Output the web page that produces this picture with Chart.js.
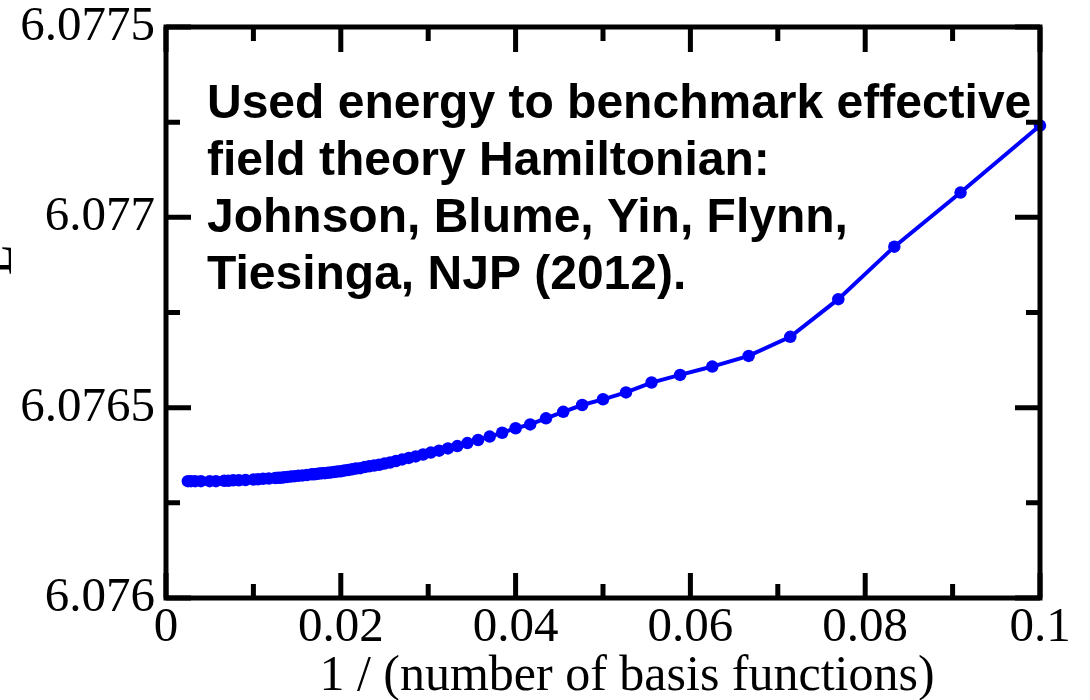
<!DOCTYPE html>
<html>
<head>
<meta charset="utf-8">
<title>Energy vs 1/N</title>
<script src="https://cdn.jsdelivr.net/npm/chart.js@4.4.1/dist/chart.umd.min.js"></script>
<style>
  html, body { margin: 0; padding: 0; background: #fff; }
  #wrap { width: 1090px; height: 700px; }
</style>
</head>
<body>
<div id="wrap"><canvas id="energyChart" width="1090" height="700"></canvas></div>
<script>
// Data
const basisCounts = [
    10, 11, 12, 13, 14, 15, 16, 17, 18, 19,
    20, 21, 22, 23, 24, 25, 26, 27, 28, 29,
    30, 31, 32, 33, 34, 35, 36, 37, 38, 39,
    40, 41, 42, 43, 44, 45, 46, 47, 48, 49,
    50, 51, 52, 53, 54, 55, 56, 57, 58, 59, 60,
    62, 64, 66, 68, 70, 72, 74, 76, 78, 80,
    85, 90, 95, 100, 110, 120, 130, 140, 150,
    175, 200, 250, 300, 350, 400
];
const energies = [
    6.077241, 6.077065, 6.076923, 6.076785, 6.076686, 6.076636, 6.076608, 6.076586, 6.076566, 6.076540,
    6.076522, 6.076507, 6.076489, 6.076472, 6.076456, 6.076446, 6.076434, 6.076424, 6.076415, 6.076407,
    6.076399, 6.076393, 6.076387, 6.076382, 6.076377, 6.076372, 6.076368, 6.076364, 6.076360, 6.076356,
    6.076353, 6.076350, 6.076348, 6.076346, 6.076344, 6.076341, 6.076340, 6.076338, 6.076336, 6.076335,
    6.076333, 6.076332, 6.076331, 6.076330, 6.076329, 6.076328, 6.076328, 6.076327, 6.076326, 6.076325, 6.076325,
    6.076323, 6.076322, 6.076321, 6.076320, 6.076319, 6.076318, 6.076317, 6.076316, 6.076316, 6.076315,
    6.076314, 6.076313, 6.076312, 6.076311, 6.076310, 6.076309, 6.076309, 6.076308, 6.076308,
    6.076307, 6.076307, 6.076307, 6.076307, 6.076307, 6.076307
];

// Axis ticks
const xTickValues = [0, 0.02, 0.04, 0.06, 0.08, 0.1];
const xMinorTicks = [0.01, 0.03, 0.05, 0.07, 0.09];
const yTickValues = [6.076, 6.0765, 6.077, 6.0775];
const yMinorTicks = [6.07625, 6.07675, 6.07725];

// Texts
const xTitle = '1 / (number of basis functions)';
const yTitle = 'E';
const noteLines = [
    'Used energy to benchmark effective',
    'field theory Hamiltonian:',
    'Johnson, Blume, Yin, Flynn,',
    'Tiesinga, NJP (2012).'
];

const SERIF = '"Liberation Serif", "Times New Roman", serif';
const SANS = '"Liberation Sans", Arial, sans-serif';

// Frame, inward ticks and the text boxes
const framePlugin = {
    id: 'framePlugin',
    afterDatasetsDraw(chart) {
        const { ctx, chartArea: a, scales: { x, y } } = chart;
        ctx.save();
        ctx.strokeStyle = '#000';
        ctx.lineWidth = 5;
        ctx.lineCap = 'butt';
        ctx.strokeRect(a.left, a.top, a.right - a.left, a.bottom - a.top);

        const major = 25, minor = 14;
        ctx.beginPath();
        const xTick = (v, len) => {
            const px = x.getPixelForValue(v);
            ctx.moveTo(px, a.bottom); ctx.lineTo(px, a.bottom - len);
            ctx.moveTo(px, a.top); ctx.lineTo(px, a.top + len);
        };
        const yTick = (v, len) => {
            const py = y.getPixelForValue(v);
            ctx.moveTo(a.left, py); ctx.lineTo(a.left + len, py);
            ctx.moveTo(a.right, py); ctx.lineTo(a.right - len, py);
        };
        xTickValues.forEach(v => xTick(v, major));
        xMinorTicks.forEach(v => xTick(v, minor));
        yTickValues.forEach(v => yTick(v, major));
        yMinorTicks.forEach(v => yTick(v, minor));
        ctx.stroke();
        ctx.restore();
    },
    afterDraw(chart) {
        const { ctx } = chart;
        ctx.save();
        ctx.fillStyle = '#000';

        // note in bold sans
        ctx.font = 'bold 48px ' + SANS;
        ctx.textAlign = 'left';
        ctx.textBaseline = 'alphabetic';
        noteLines.forEach((line, i) => ctx.fillText(line, 207, 118 + i * 57));

        // x axis title
        ctx.font = '50px ' + SERIF;
        ctx.textAlign = 'center';
        ctx.fillText(xTitle, 627, 690);

        // y axis title, mostly cut off by the left edge
        ctx.translate(11, 260);
        ctx.rotate(-Math.PI / 2);
        ctx.fillText(yTitle, 0, 0);
        ctx.restore();
    }
};

const ctx = document.getElementById('energyChart').getContext('2d');
new Chart(ctx, {
    type: 'scatter',
    data: {
        datasets: [{
            data: basisCounts.map((n, i) => ({ x: 1 / n, y: energies[i] })),
            showLine: true,
            borderColor: '#0000ff',
            backgroundColor: '#0000ff',
            borderWidth: 4,
            pointRadius: 6.25,
            pointBorderWidth: 0,
            pointHoverRadius: 6.25,
            tension: 0,
            clip: false
        }]
    },
    options: {
        responsive: false,
        animation: false,
        devicePixelRatio: 1,
        layout: { padding: { top: 27, right: 50, left: 0, bottom: 0 } },
        plugins: {
            legend: { display: false },
            tooltip: { enabled: false }
        },
        scales: {
            x: {
                type: 'linear',
                min: 0,
                max: 0.1,
                grid: { display: false, drawTicks: false },
                border: { display: false },
                afterBuildTicks: scale => { scale.ticks = xTickValues.map(v => ({ value: v })); },
                afterFit: scale => { scale.height = 102; },
                ticks: {
                    autoSkip: false,
                    maxRotation: 0,
                    padding: 6,
                    color: '#000',
                    font: { family: SERIF, size: 49, lineHeight: 1 },
                    callback: v => String(+v.toFixed(2))
                }
            },
            y: {
                type: 'linear',
                min: 6.076,
                max: 6.0775,
                grid: { display: false, drawTicks: false },
                border: { display: false },
                afterBuildTicks: scale => { scale.ticks = yTickValues.map(v => ({ value: v })); },
                afterFit: scale => {
                    scale.width = 166;
                    scale.paddingTop = 20;
                    scale.paddingBottom = 20;
                },
                ticks: {
                    autoSkip: false,
                    padding: 11,
                    color: '#000',
                    font: { family: SERIF, size: 49, lineHeight: 1 },
                    callback: v => String(+v.toFixed(4))
                }
            }
        }
    },
    plugins: [framePlugin]
});
</script>
</body>
</html>
